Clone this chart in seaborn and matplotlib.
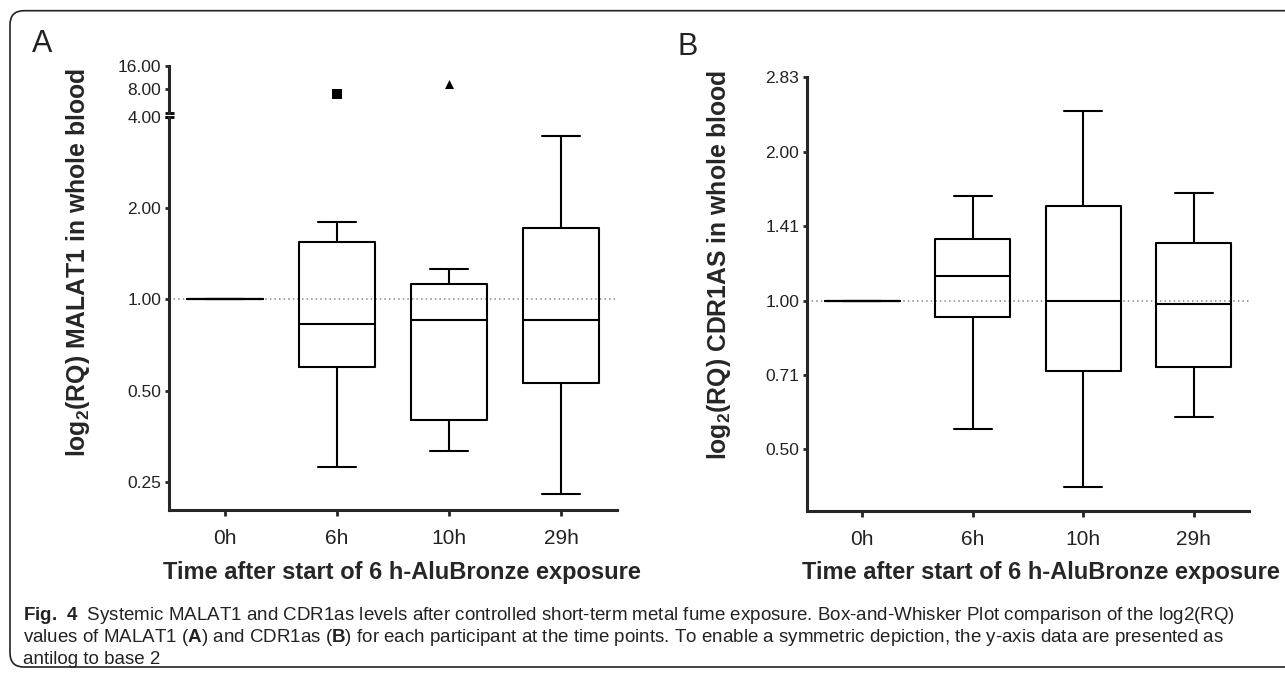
import numpy as np
import pandas as pd
import seaborn as sns
import matplotlib.pyplot as plt
from matplotlib.patches import FancyBboxPatch
from matplotlib.transforms import IdentityTransform
from matplotlib.ticker import NullLocator

times = ["0h", "6h", "10h", "29h"]

# MALAT1, antilog values per time point: lower whisker, Q1, median, Q3, upper whisker
malat_low = [1.0, 0.28, 0.315, 0.227]
malat_q1 = [1.0, 0.60, 0.40, 0.53]
malat_med = [1.0, 0.828, 0.857, 0.857]
malat_q3 = [1.0, 1.55, 1.125, 1.72]
malat_high = [1.0, 1.80, 1.26, 3.47]

# MALAT1 outliers (upper broken segment)
malat_out_time = ["6h", "10h"]
malat_out_val = [6.9, 9.3]

# CDR1as
cdr_low = [1.0, 0.55, 0.419, 0.58]
cdr_q1 = [1.0, 0.927, 0.72, 0.733]
cdr_med = [1.0, 1.12, 1.0, 0.985]
cdr_q3 = [1.0, 1.33, 1.555, 1.31]
cdr_high = [1.0, 1.63, 2.42, 1.65]

malat_ticks_low = [0.25, 0.5, 1.0, 2.0, 4.0]
malat_ticks_high = [8.0, 16.0]
cdr_ticks = [2 ** -1, 2 ** -0.5, 1.0, 2 ** 0.5, 2.0, 2 ** 1.5]

xlab = "Time after start of 6 h-AluBronze exposure"
caption = [
    r"$\mathbf{Fig.\ 4}$  Systemic MALAT1 and CDR1as levels after controlled short-term metal fume exposure. Box-and-Whisker Plot comparison of the log2(RQ)",
    r"values of MALAT1 ($\mathbf{A}$) and CDR1as ($\mathbf{B}$) for each participant at the time points. To enable a symmetric depiction, the y-axis data are presented as",
    "antilog to base 2",
]


def long_table(t, *cols):
    rows = []
    for i, name in enumerate(t):
        for c in cols:
            rows.append((name, c[i]))
    return pd.DataFrame(rows, columns=["time", "value"])


malat = long_table(times, malat_low, malat_q1, malat_med, malat_q3, malat_high)
cdr = long_table(times, cdr_low, cdr_q1, cdr_med, cdr_q3, cdr_high)
malat_out = pd.DataFrame({"time": malat_out_time, "value": malat_out_val})

sns.set_style("ticks")
plt.rcParams["font.family"] = ["Liberation Sans", "DejaVu Sans"]
plt.rcParams["mathtext.fontset"] = "custom"
plt.rcParams["mathtext.bf"] = "Liberation Sans:bold"
plt.rcParams["axes.linewidth"] = 2.2

W, H = 1285, 681
fig = plt.figure(figsize=(W / 100, H / 100), dpi=100)


def box(x0, y0, x1, y1):
    return [x0 / W, 1 - y1 / H, (x1 - x0) / W, (y1 - y0) / H]


def px(x, y):
    return x / W, 1 - y / H


axA = fig.add_axes(box(169, 117, 617, 510))
axT = fig.add_axes(box(169, 65.7, 617, 113))
axB = fig.add_axes(box(807, 77.5, 1249, 511))

box_kw = dict(x="time", y="value", order=times, whis=(0, 100), width=0.68,
              fill=False, color="black", linewidth=1.5, log_scale=2)

for ax in (axA, axB):
    ax.axhline(1.0, color="#8a8a8a", ls=(0, (1, 2)), lw=1.1, zorder=0)

sns.boxplot(data=malat, ax=axA, **box_kw)
sns.boxplot(data=cdr, ax=axB, **box_kw)

for t, m in zip(malat_out_time, ["s", "^"]):
    sns.stripplot(data=malat_out[malat_out["time"] == t], x="time", y="value",
                  order=times, jitter=False, marker=m, color="black", size=6.5,
                  log_scale=2, ax=axT)

for ax in (axA, axT, axB):
    ax.set_xlim(-0.5, 3.5)
    ax.set_xlabel("")
    ax.set_ylabel("")
    ax.yaxis.set_minor_locator(NullLocator())
    ax.tick_params(axis="y", length=3, width=2, pad=2.5, labelsize=12.5, labelcolor="#222")
    ax.tick_params(axis="x", length=4, width=2, pad=10, labelsize=15, labelcolor="#222")
    sns.despine(ax=ax)

axA.set_ylim(0.2017, 4.0)
axA.set_yticks(malat_ticks_low, [f"{v:.2f}" for v in malat_ticks_low])
axT.set_ylim(4.0, 16.0)
axT.set_yticks(malat_ticks_high, [f"{v:.2f}" for v in malat_ticks_high])
axT.spines["bottom"].set_visible(False)
axT.tick_params(axis="x", bottom=False, labelbottom=False)
axB.set_ylim(0.375, 2 ** 1.5)
axB.set_yticks(cdr_ticks, [f"{v:.2f}" for v in cdr_ticks])

# axis break marks
for ax, yy in ((axT, 0.0), (axA, 1.0)):
    ax.plot([-0.009, 0.012], [yy, yy], transform=ax.transAxes, color="black",
            lw=2, clip_on=False, solid_capstyle="butt")

# labels
lab_kw = dict(fontsize=17, fontweight="bold", ha="center", va="center")
fig.text(*px(402, 573), xlab, **lab_kw)
fig.text(*px(1041, 573), xlab, **lab_kw)
ylab_kw = dict(lab_kw, fontsize=17.8, rotation=90)
fig.text(*px(78, 263), r"$\mathbf{log_2}$(RQ) MALAT1 in whole blood", **ylab_kw)
fig.text(*px(719, 265), r"$\mathbf{log_2}$(RQ) CDR1AS in whole blood", **ylab_kw)
fig.text(*px(32, 52), "A", fontsize=22, color="#222")
fig.text(*px(678, 55), "B", fontsize=22, color="#222")

# caption
cap_kw = dict(fontsize=13.5, color="#222", va="center")
for line, yy in zip(caption, [615, 638, 660]):
    fig.text(*px(23, yy), line, **cap_kw)

frame = FancyBboxPatch((10, 14), 1320, 656.3, boxstyle="round,pad=0,rounding_size=14",
                       transform=IdentityTransform(), fill=False, ec="#222", lw=1.2)
fig.add_artist(frame)

fig.savefig("out.png", dpi=100)
